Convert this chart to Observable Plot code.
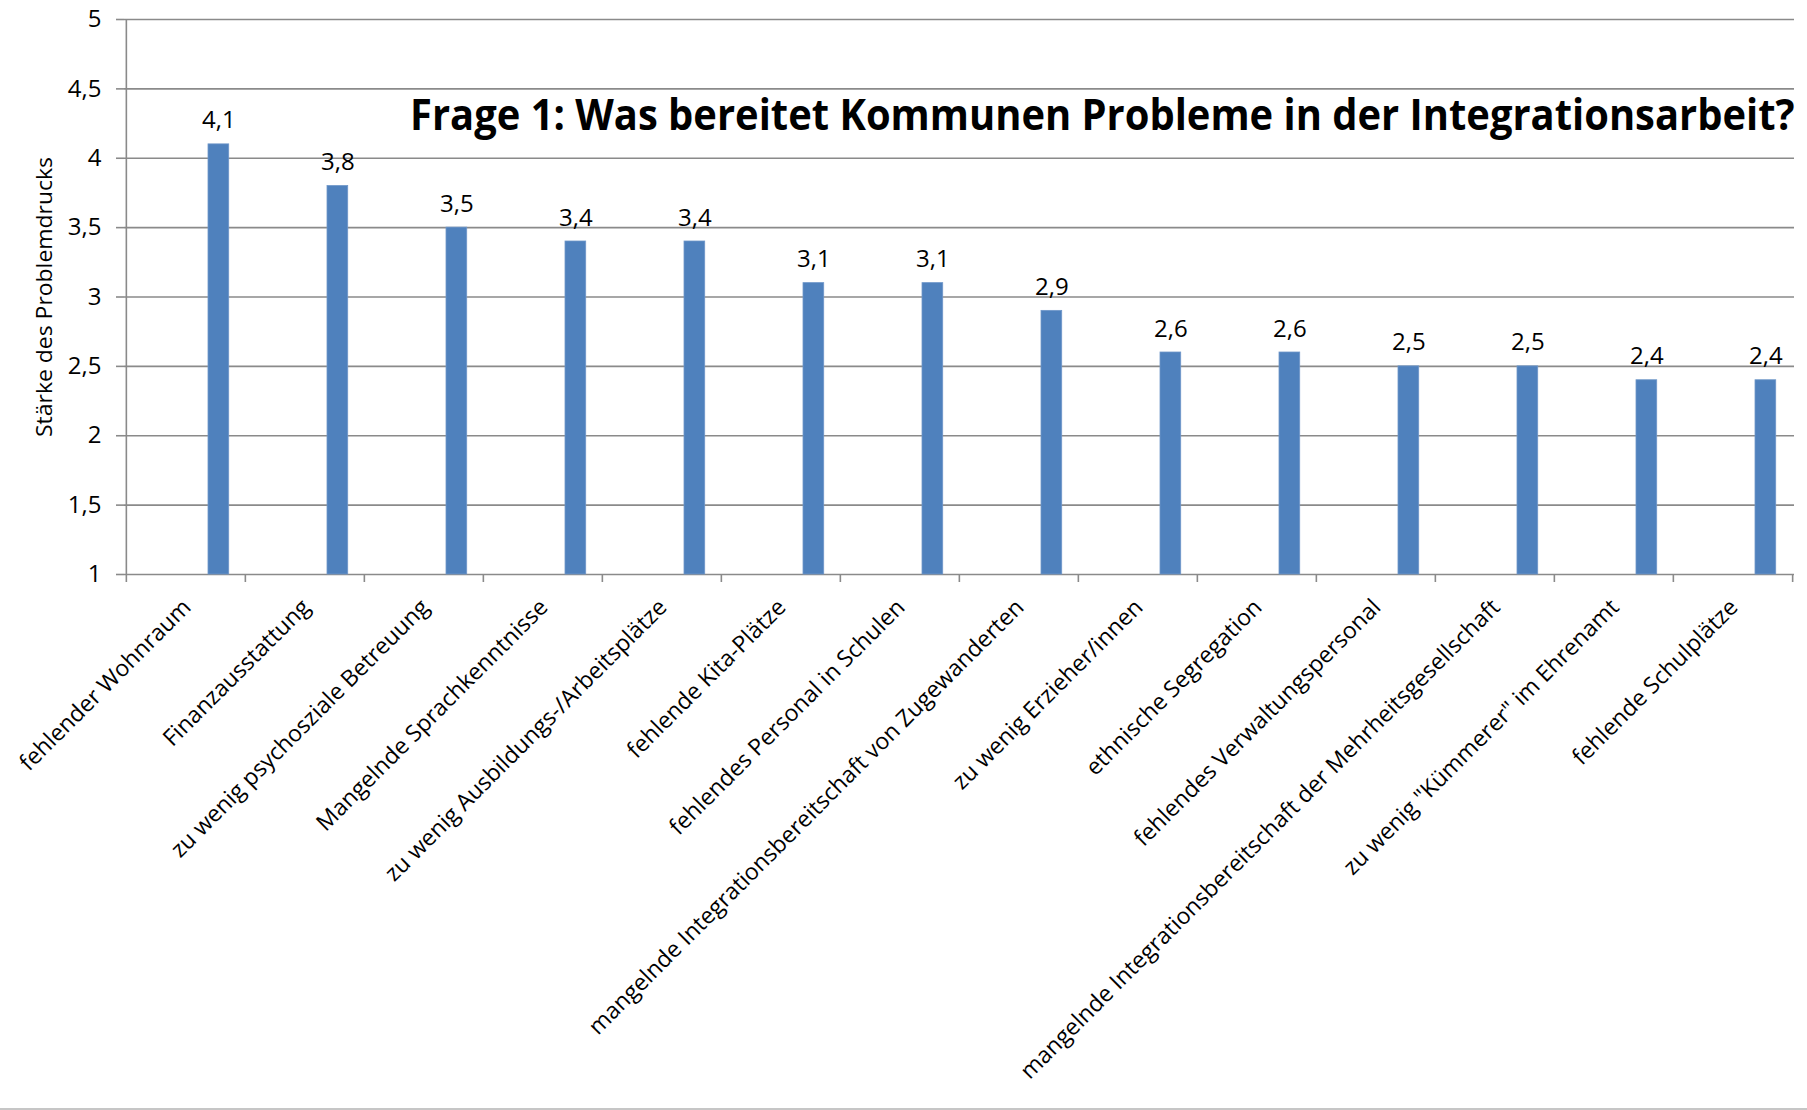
<!DOCTYPE html>
<html>
<head>
<meta charset="utf-8">
<script src="https://cdn.jsdelivr.net/npm/d3@7"></script>
<script src="https://cdn.jsdelivr.net/npm/@observablehq/plot@0.6"></script>
<style>
  body { margin: 0; background: #fff; }
  #chart svg { display: block; }
  #bottomline { height: 0; border-top: 2px solid #c6c6c6; width: 1807px; }
</style>
</head>
<body>
<div id="chart"></div>
<div id="bottomline"></div>
<script>
const categories = [
  "fehlender Wohnraum",
  "Finanzausstattung",
  "zu wenig psychosziale Betreuung",
  "Mangelnde Sprachkenntnisse",
  "zu wenig Ausbildungs-/Arbeitsplätze",
  "fehlende Kita-Plätze",
  "fehlendes Personal in Schulen",
  "mangelnde Integrationsbereitschaft von Zugewanderten",
  "zu wenig Erzieher/innen",
  "ethnische Segregation",
  "fehlendes Verwaltungspersonal",
  "mangelnde Integrationsbereitschaft der Mehrheitsgesellschaft",
  "zu wenig \"Kümmerer\" im Ehrenamt",
  "fehlende Schulplätze"
];
const values = [4.1, 3.8, 3.5, 3.4, 3.4, 3.1, 3.1, 2.9, 2.6, 2.6, 2.5, 2.5, 2.4, 2.4];
const yTicks = [1, 1.5, 2, 2.5, 3, 3.5, 4, 4.5, 5];
const title = "Frage 1: Was bereitet Kommunen Probleme in der Integrationsarbeit?";
const yLabel = "Stärke des Problemdrucks";

const W = 1807, H = 1108;
const mL = 124, mR = 13, mT = 19, mB = H - 574;
const bw = (W - mL - mR) / categories.length;
const barLeft = 82, barW = 21;
const barCenterOffset = barLeft + barW / 2 - bw / 2;
const grey = "#8a8a8a";
const fmt = d => String(d).replace(".", ",");
const data = categories.map((c, i) => ({cat: c, value: values[i]}));
const y0 = yTicks[0];
const titleWidth = 1385;

const plot = Plot.plot({
  width: W,
  height: H,
  marginLeft: mL,
  marginRight: mR,
  marginTop: mT,
  marginBottom: mB,
  style: {fontFamily: "'Open Sans', sans-serif", background: "#fff", color: "#000", overflow: "visible"},
  x: {type: "band", domain: categories, padding: 0},
  y: {domain: [yTicks[0], yTicks[yTicks.length - 1]]},
  marks: [
    Plot.gridY(yTicks, {stroke: grey, strokeOpacity: 1, strokeWidth: 1.6}),
    Plot.ruleX([categories[0]], {x: d => d, y1: y0, y2: yTicks[yTicks.length - 1], dx: -bw / 2, stroke: grey, strokeWidth: 1.6}),
    Plot.ruleX(categories, {x: d => d, y1: y0, y2: y0, dx: -bw / 2, insetBottom: -8, stroke: grey, strokeWidth: 1.6}),
    Plot.ruleX([categories[categories.length - 1]], {x: d => d, y1: y0, y2: y0, dx: bw / 2, insetBottom: -8, stroke: grey, strokeWidth: 1.6}),
    Plot.barY(data, {x: "cat", y1: y0, y2: "value", fill: "#4F81BD", stroke: "#6f97c9", strokeWidth: 0.8,
      insetLeft: barLeft, insetRight: bw - barLeft - barW}),
    Plot.text(data, {x: "cat", y: "value", text: d => fmt(d.value), dx: barCenterOffset, dy: -16,
      lineAnchor: "bottom", fontSize: 24, fill: "#000"}),
    Plot.axisY(yTicks, {tickSize: 8, tickPadding: 15, tickFormat: fmt, fontSize: 24, stroke: grey, strokeWidth: 1.6, label: null, fill: "#000"}),
    Plot.axisX({tickSize: 0, tickRotate: -45, tickPadding: 29, dx: 1, fontSize: 23, label: null, fill: "#000"}),
    Plot.text([title], {frameAnchor: "top-right", dy: 80, lineAnchor: "top", fontSize: 43, fontWeight: "bold", fill: "#000"}),
    Plot.text([yLabel], {frameAnchor: "left", textAnchor: "middle", rotate: -90, dx: -79, dy: 0, fontSize: 21, fill: "#000"})
  ]
});

document.getElementById("chart").appendChild(plot);

const svg = d3.select(plot);
svg.selectAll("text").filter(function() { return this.textContent === title; })
  .each(function() {
    const natural = this.getComputedTextLength();
    const sx = titleWidth / natural;
    const ax = +this.getAttribute("x") || 0;
    const prev = this.getAttribute("transform") || "";
    this.setAttribute("transform", `${prev} translate(${ax},0) scale(${sx},1) translate(${-ax},0)`);
  });
svg.selectAll("text").filter(function() { return this.textContent === yLabel; })
  .attr("textLength", 280).attr("lengthAdjust", "spacingAndGlyphs");
</script>
</body>
</html>
